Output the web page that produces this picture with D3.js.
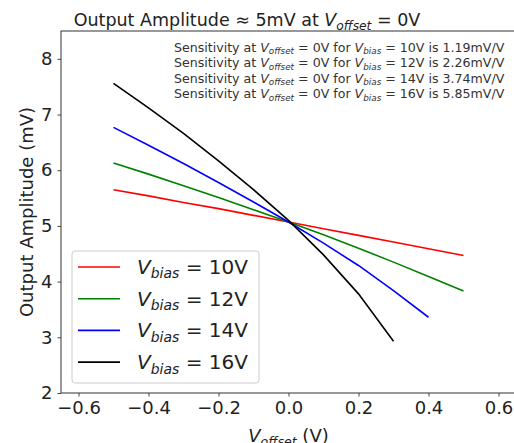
<!DOCTYPE html>
<html>
<head>
<meta charset="utf-8">
<script src="https://cdn.jsdelivr.net/npm/d3@7"></script>
<style>
    body { margin: 0; background: white; }
    text { font-family: "DejaVu Sans", sans-serif; }
</style>
</head>
<body>
<div id="chart"></div>
<script>
// offset voltage steps (V)
const offsetValues = [-0.5, -0.4, -0.3, -0.2, -0.1, 0.0, 0.1, 0.2, 0.3, 0.4, 0.5];

// output amplitude (mV)
const amp10V = [5.65, 5.54, 5.42, 5.31, 5.19, 5.07, 4.95, 4.83, 4.71, 4.59, 4.47];
const amp12V = [6.13, 5.93, 5.72, 5.51, 5.29, 5.07, 4.84, 4.60, 4.35, 4.09, 3.83];
const amp14V = [6.77, 6.45, 6.12, 5.78, 5.43, 5.07, 4.69, 4.29, 3.84, 3.36];
const amp16V = [7.56, 7.12, 6.66, 6.17, 5.65, 5.10, 4.48, 3.78, 2.93];

const biasLabels = ["10V", "12V", "14V", "16V"];
const sensitivities = ["1.19", "2.26", "3.74", "5.85"];
const lineColors = ["red", "green", "blue", "black"];

const xTicks = [-0.6, -0.4, -0.2, 0.0, 0.2, 0.4, 0.6];
const yTicks = [2, 3, 4, 5, 6, 7, 8];

class OffsetChart {
    constructor(parentElement) {
        this.parentElement = parentElement;
        this.series = [amp10V, amp12V, amp14V, amp16V].map((vals, i) => ({
            label: biasLabels[i],
            color: lineColors[i],
            values: vals.map((v, j) => ({x: offsetValues[j], y: v}))
        }));
        this.initVis();
    }

    // append V with italic subscript, matplotlib mathtext style
    mathV(textSel, sub, size) {
        let subSize = size * 0.7;
        let shift = size * 0.22;
        textSel.append("tspan").attr("font-style", "italic").text("V");
        textSel.append("tspan").attr("font-style", "italic")
            .attr("font-size", subSize).attr("dy", shift).text(sub);
        return textSel.append("tspan").attr("dy", -shift);
    }

    initVis() {
        let vis = this;
        vis.margin = {top: 31, right: -2, bottom: 50, left: 61};
        vis.width = 514 - vis.margin.left - vis.margin.right;
        vis.height = 443 - vis.margin.top - vis.margin.bottom;

        vis.svg = d3.select("#" + vis.parentElement).append("svg")
            .attr("width", 514)
            .attr("height", 443)
            .append("g")
            .attr("transform", "translate(" + vis.margin.left + "," + vis.margin.top + ")");

        // scales
        vis.x = d3.scaleLinear().domain([-0.65, 0.65]).range([0, vis.width]);
        vis.y = d3.scaleLinear().domain([2, 8.5]).range([vis.height, 0]);

        vis.xAxis = d3.axisBottom(vis.x)
            .tickValues(xTicks)
            .tickFormat(d3.format(".1f"))
            .tickSizeInner(3.5).tickSizeOuter(0).tickPadding(4.5);
        vis.yAxis = d3.axisLeft(vis.y)
            .tickValues(yTicks)
            .tickFormat(d3.format("d"))
            .tickSizeInner(3.5).tickSizeOuter(0).tickPadding(5);

        vis.svg.append("g")
            .attr("class", "x-axis axis")
            .attr("transform", "translate(0," + vis.height + ")")
            .call(vis.xAxis);
        vis.svg.append("g")
            .attr("class", "y-axis axis")
            .call(vis.yAxis);

        vis.svg.selectAll(".axis .domain").remove();
        vis.svg.selectAll(".axis line").attr("stroke", "#333").attr("stroke-width", 0.9);
        vis.svg.selectAll(".axis text")
            .attr("font-size", 18)
            .attr("fill", "#222")
            .style("font-family", "DejaVu Sans");

        // frame
        vis.svg.append("rect")
            .attr("x", 0).attr("y", 0)
            .attr("width", vis.width).attr("height", vis.height)
            .attr("fill", "none")
            .attr("stroke", "#333")
            .attr("stroke-width", 1);

        // title
        let title = vis.svg.append("text")
            .attr("x", 247 - vis.margin.left)
            .attr("y", 26 - vis.margin.top)
            .attr("font-size", 17.5)
            .attr("fill", "#222")
            .attr("text-anchor", "middle");
        title.append("tspan").text("Output Amplitude \u2248 5mV at ");
        vis.mathV(title, "offset", 17.5).text(" = 0V");

        // axis labels
        let xLabel = vis.svg.append("text")
            .attr("x", vis.x(0))
            .attr("y", 442 - vis.margin.top)
            .attr("font-size", 18)
            .attr("fill", "#222")
            .attr("text-anchor", "middle");
        vis.mathV(xLabel, "offset", 18).text(" (V)");

        vis.svg.append("text")
            .attr("transform", "rotate(-90)")
            .attr("x", -vis.height / 2)
            .attr("y", 33 - vis.margin.left)
            .attr("font-size", 18)
            .attr("fill", "#222")
            .attr("text-anchor", "middle")
            .text("Output Amplitude (mV)");

        vis.updateVis();
    }

    updateVis() {
        let vis = this;

        let line = d3.line()
            .x(d => vis.x(d.x))
            .y(d => vis.y(d.y));

        vis.svg.selectAll(".series")
            .data(vis.series)
            .enter()
            .append("path")
            .attr("class", "series")
            .attr("fill", "none")
            .attr("stroke", d => d.color)
            .attr("stroke-width", 1.6)
            .attr("d", d => line(d.values));

        // sensitivity notes
        sensitivities.forEach((s, i) => {
            let note = vis.svg.append("text")
                .attr("x", 174 - vis.margin.left)
                .attr("y", 51.5 + i * 15.6 - vis.margin.top)
                .attr("font-size", 12.6)
                .attr("fill", "#333");
            note.append("tspan").text("Sensitivity at ");
            vis.mathV(note, "offset", 12.6).text(" = 0V for ");
            vis.mathV(note, "bias", 12.6).text(" = " + biasLabels[i] + " is " + s + "mV/V");
        });

        // legend
        let legend = vis.svg.append("g")
            .attr("transform", "translate(" + (72 - vis.margin.left) + "," + (251 - vis.margin.top) + ")");
        legend.append("rect")
            .attr("width", 187)
            .attr("height", 132)
            .attr("rx", 3)
            .attr("fill", "white")
            .attr("fill-opacity", 0.8)
            .attr("stroke", "#ccc")
            .attr("stroke-width", 1);

        vis.series.forEach((d, i) => {
            let cy = 16 + i * 31.7;
            legend.append("line")
                .attr("x1", 6).attr("x2", 48)
                .attr("y1", cy).attr("y2", cy)
                .attr("stroke", d.color)
                .attr("stroke-width", 1.6);
            let t = legend.append("text")
                .attr("x", 65)
                .attr("y", cy + 7)
                .attr("font-size", 20)
                .attr("fill", "#222");
            vis.mathV(t, "bias", 20).text(" = " + d.label);
        });
    }
}

new OffsetChart("chart");
</script>
</body>
</html>
